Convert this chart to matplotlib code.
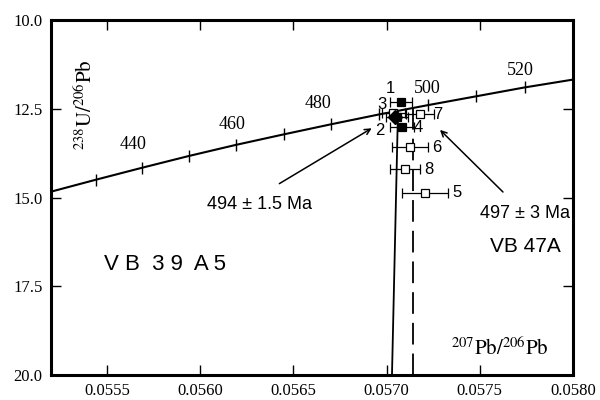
import matplotlib
matplotlib.use("Agg")
import matplotlib.pyplot as plt

# concordia curve (age in Ma, 207Pb/206Pb, 238U/206Pb)
conc_age = [420, 430, 440, 450, 460, 470, 480, 490, 500, 510, 520, 530]
conc_x = [0.05519, 0.05544, 0.05569, 0.05594, 0.05619, 0.05645, 0.05670,
          0.05696, 0.05722, 0.05748, 0.05774, 0.05801]
conc_y = [14.85, 14.50, 14.16, 13.83, 13.52, 13.22, 12.94, 12.66, 12.40,
          12.15, 11.90, 11.67]
label_ages = [440, 460, 480, 500, 520]
label_x = [0.05564, 0.05617, 0.05663, 0.05722, 0.05772]
label_y = [13.52, 12.93, 12.34, 11.92, 11.41]

# zircon analyses
pt_id = ["1", "3", "7", "2", "4", "6", "8", "5"]
pt_x = [0.057076, 0.057036, 0.057179, 0.057056, 0.057081, 0.057126, 0.057099, 0.057206]
pt_y = [12.30, 12.63, 12.65, 12.73, 13.01, 13.57, 14.21, 14.88]
pt_err = [0.000060, 0.000063, 0.000075, 0.000060, 0.000064, 0.000097, 0.000080, 0.000123]
pt_filled = [True, False, False, True, True, False, False, False]
num_x = [0.057018, 0.056975, 0.057276, 0.056962, 0.057168, 0.057271, 0.057228, 0.057378]
num_y = [11.92, 12.37, 12.65, 13.12, 13.03, 13.58, 14.20, 14.87]

# discordia / reference lines
solid_x = [0.057061, 0.057029]
solid_y = [12.59, 20.0]
dash_x = [0.057142, 0.057142]
dash_y = [12.48, 20.0]

plt.rcParams["mathtext.fontset"] = "stix"
serif = "Liberation Serif"
sans = "Liberation Sans"

fig = plt.figure(figsize=(6, 4), dpi=100)
ax = fig.add_axes([0.085, 0.0625, 0.87, 0.8875])

ax.plot(conc_x, conc_y, color="black", lw=1.5, zorder=2)
ax.plot(conc_x, conc_y, ls="none", marker="|", ms=8, mew=1.0, color="black", zorder=2)
for a, lx, ly in zip(label_ages, label_x, label_y):
    ax.text(lx, ly, str(a), ha="center", va="center", fontsize=13, family=serif)

ax.plot(solid_x, solid_y, color="black", lw=1.3, zorder=1)
ax.plot(dash_x, dash_y, color="black", lw=1.3, dashes=(12, 5), zorder=1)

for x, y, e, f in zip(pt_x, pt_y, pt_err, pt_filled):
    ax.errorbar(x, y, xerr=e, fmt="s", ms=5.5, mfc="black" if f else "white",
                mec="black", mew=0.9, ecolor="black", elinewidth=0.9, capsize=3.5,
                capthick=0.9, zorder=4 if f else 3)
# weighted mean
ax.plot([0.057045], [12.72], marker="D", ms=7, color="black", zorder=5)

for t, x, y in zip(pt_id, num_x, num_y):
    ax.text(x, y, t, ha="center", va="center", fontsize=12, family=sans)

ax.annotate("", xy=(0.056933, 13.01), xytext=(0.056412, 14.65),
            arrowprops=dict(arrowstyle="->", color="black", lw=1.1))
ax.annotate("", xy=(0.057276, 13.04), xytext=(0.057635, 14.90),
            arrowprops=dict(arrowstyle="->", color="black", lw=1.1))

ax.text(0.056321, 15.21, "494 ± 1.5 Ma", ha="center", va="center", fontsize=13, family=sans)
ax.text(0.057743, 15.46, "497 ± 3 Ma", ha="center", va="center", fontsize=13, family=sans)
ax.text(0.057743, 16.39, "VB 47A", ha="center", va="center", fontsize=15, family=sans)
ax.text(0.055812, 16.90, "V B  3 9  A 5", ha="center", va="center", fontsize=16, family=sans)
ax.text(0.057608, 19.24, r"$^{207}\mathrm{Pb}/^{206}\mathrm{Pb}$", ha="center", va="center",
        fontsize=15)
ax.text(0.055382, 12.39, r"$^{238}\mathrm{U}/^{206}\mathrm{Pb}$", ha="center", va="center",
        fontsize=15, rotation=90)

ax.set_xlim(0.0552, 0.0580)
ax.set_ylim(20.0, 10.0)
ax.set_xticks([0.0555, 0.0560, 0.0565, 0.0570, 0.0575, 0.0580])
ax.set_yticks([10.0, 12.5, 15.0, 17.5, 20.0])
ax.set_xticklabels(["0.0555", "0.0560", "0.0565", "0.0570", "0.0575", "0.0580"])
ax.set_yticklabels(["10.0", "12.5", "15.0", "17.5", "20.0"])
ax.tick_params(direction="in", length=7, width=1.0, top=True, right=True,
               labelsize=12, pad=6)
for lab in ax.get_xticklabels() + ax.get_yticklabels():
    lab.set_family(serif)
for s in ax.spines.values():
    s.set_linewidth(2.2)

fig.savefig("out.png", dpi=100)
